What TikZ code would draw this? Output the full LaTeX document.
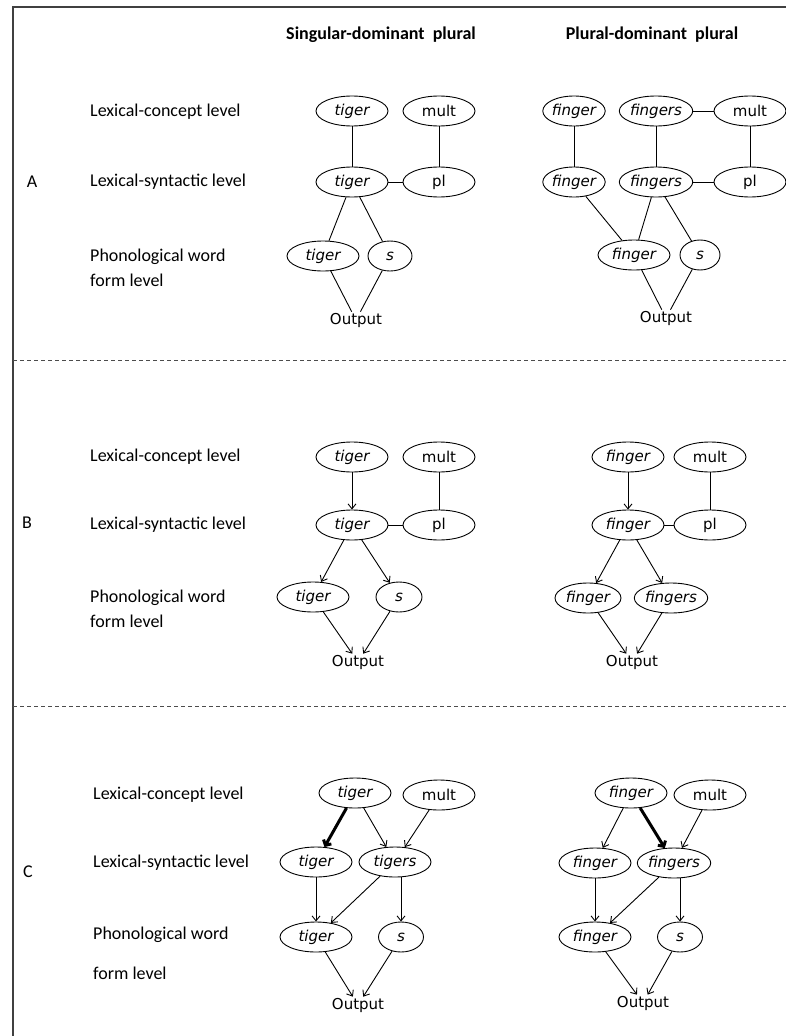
\documentclass[tikz,border=0pt]{standalone}
\usepackage{fontspec}
\setmainfont{Carlito}
\newfontfamily\nodefont{DejaVu Sans}
\usepackage{tikz}
\usetikzlibrary{shapes.geometric,arrows.meta}

\begin{document}
\begin{tikzpicture}[x=1pt,y=-1pt,
    word/.style={ellipse,draw,line width=0.9pt,minimum width=72pt,minimum height=30pt,inner sep=0pt,font=\nodefont\fontsize{15}{18}\selectfont},
    lemma/.style={word,font=\nodefont\itshape\fontsize{15}{18}\selectfont},
    outtext/.style={inner sep=1pt,font=\nodefont\fontsize{15}{18}\selectfont},
    lvltext/.style={anchor=west,align=left,inner sep=0pt,font=\fontsize{18}{25}\selectfont},
    header/.style={font=\bfseries\fontsize{18}{22}\selectfont},
    panel/.style={font=\fontsize{18}{22}\selectfont},
    link/.style={line width=0.9pt},
    feed/.style={line width=0.9pt,-{Straight Barb[length=5pt,width=8pt]}},
    strongfeed/.style={line width=3pt,-{Straight Barb[length=4pt,width=9pt]}},
    frame/.style={line width=2pt,black!75},
    divider/.style={line width=1pt,black!70,dash pattern=on 4pt off 3pt}]
    \useasboundingbox (0,0) rectangle (786,1036);

    % Frame
    \draw[frame] (13,1036) -- (13,7) -- (786,7);
    \draw[divider] (13,360) -- (786,360);
    \draw[divider] (13,706) -- (786,706);

    % Column headers
    \node[header] (hsing) at (381,35) {Singular-dominant\ \ plural};
    \node[header] (hplur) at (652,35) {Plural-dominant\ \ plural};

    % Panel A
    \node[panel] (pA) at (32,182) {A};
    \node[lvltext] (aLc) at (90,112) {Lexical-concept level};
    \node[lvltext] (aLs) at (90,182) {Lexical-syntactic level};
    \node[lvltext] (aPw) at (90,268) {Phonological word\\form level};

    \node[lemma] (alTigerC) at (352,111) {tiger};
    \node[word] (alMult) at (439,111) {mult};
    \node[lemma] (alTigerS) at (352,182) {tiger};
    \node[word] (alPl) at (439,182) {pl};
    \node[lemma] (alTigerP) at (323,256) {tiger};
    \node[lemma,minimum width=44pt] (alS) at (390,256) {s};
    \node[outtext] (alOut) at (356,320) {Output};

    \draw[link] (alTigerC) -- (alTigerS);
    \draw[link] (alMult) -- (alPl);
    \draw[link] (alTigerS) -- (alPl);
    \draw[link] (alTigerS) -- (alTigerP);
    \draw[link] (alTigerS) -- (alS);
    \draw[link] (alTigerP) -- (alOut);
    \draw[link] (alS) -- (alOut);

    \node[lemma,minimum width=62pt] (arFingerC) at (574,111) {finger};
    \node[lemma,minimum width=68pt] (arFingersC) at (656,111) {fingers};
    \node[word] (arMult) at (750,111) {mult};
    \node[lemma,minimum width=62pt] (arFingerS) at (574,182) {finger};
    \node[lemma,minimum width=68pt] (arFingersS) at (656,182) {fingers};
    \node[word] (arPl) at (750,182) {pl};
    \node[lemma] (arFingerP) at (634,255) {finger};
    \node[lemma,minimum width=40pt] (arS) at (700,255) {s};
    \node[outtext] (arOut) at (666,318) {Output};

    \draw[link] (arFingerC) -- (arFingerS);
    \draw[link] (arFingersC) -- (arFingersS);
    \draw[link] (arMult) -- (arPl);
    \draw[link] (arFingersC) -- (arMult);
    \draw[link] (arFingersS) -- (arPl);
    \draw[link] (arFingerS) -- (arFingerP);
    \draw[link] (arFingersS) -- (arFingerP);
    \draw[link] (arFingersS) -- (arS);
    \draw[link] (arFingerP) -- (arOut);
    \draw[link] (arS) -- (arOut);

    % Panel B
    \node[panel] (pB) at (27,523) {B};
    \node[lvltext] (bLc) at (90,457) {Lexical-concept level};
    \node[lvltext] (bLs) at (90,525) {Lexical-syntactic level};
    \node[lvltext] (bPw) at (90,609) {Phonological word\\form level};

    \node[lemma] (blTigerC) at (352,457) {tiger};
    \node[word] (blMult) at (439,457) {mult};
    \node[lemma] (blTigerS) at (352,525) {tiger};
    \node[word] (blPl) at (439,525) {pl};
    \node[lemma] (blTigerP) at (313,597) {tiger};
    \node[lemma,minimum width=46pt] (blS) at (399,597) {s};
    \node[outtext] (blOut) at (358,662) {Output};

    \draw[feed] (blTigerC) -- (blTigerS);
    \draw[link] (blMult) -- (blPl);
    \draw[link] (blTigerS) -- (blPl);
    \draw[feed] (blTigerS) -- (blTigerP);
    \draw[feed] (blTigerS) -- (blS);
    \draw[feed] (blTigerP) -- (blOut);
    \draw[feed] (blS) -- (blOut);

    \node[lemma] (brFingerC) at (628,457) {finger};
    \node[word] (brMult) at (710,457) {mult};
    \node[lemma] (brFingerS) at (628,525) {finger};
    \node[word] (brPl) at (710,525) {pl};
    \node[lemma,minimum width=66pt] (brFingerP) at (588,598) {finger};
    \node[lemma] (brFingersP) at (671,598) {fingers};
    \node[outtext] (brOut) at (632,662) {Output};

    \draw[feed] (brFingerC) -- (brFingerS);
    \draw[link] (brMult) -- (brPl);
    \draw[link] (brFingerS) -- (brPl);
    \draw[feed] (brFingerS) -- (brFingerP);
    \draw[feed] (brFingerS) -- (brFingersP);
    \draw[feed] (brFingerP) -- (brOut);
    \draw[feed] (brFingersP) -- (brOut);

    % Panel C
    \node[panel] (pC) at (28,872) {C};
    \node[lvltext] (cLc) at (93,795) {Lexical-concept level};
    \node[lvltext] (cLs) at (93,863) {Lexical-syntactic level};
    \node[lvltext,font=\fontsize{18}{40}\selectfont] (cPw) at (93,953) {Phonological word\\form level};

    \node[lemma] (clTigerC) at (355,793) {tiger};
    \node[word] (clMult) at (439,795) {mult};
    \node[lemma] (clTigerS) at (316,862) {tiger};
    \node[lemma] (clTigersS) at (395,862) {tigers};
    \node[lemma] (clTigerP) at (316,937) {tiger};
    \node[lemma,minimum width=45pt] (clS) at (401,937) {s};
    \node[outtext] (clOut) at (358,1005) {Output};

    \draw[strongfeed] (clTigerC) -- (clTigerS);
    \draw[feed] (clTigerC) -- (clTigersS);
    \draw[feed] (clMult) -- (clTigersS);
    \draw[feed] (clTigerS) -- (clTigerP);
    \draw[feed] (clTigersS) -- (clTigerP);
    \draw[feed] (clS |- clTigersS.south) -- (clS);
    \draw[feed] (clTigerP) -- (clOut);
    \draw[feed] (clS) -- (clOut);

    \node[lemma] (crFingerC) at (631,793) {finger};
    \node[word] (crMult) at (710,795) {mult};
    \node[lemma] (crFingerS) at (595,863) {finger};
    \node[lemma] (crFingersS) at (674,863) {fingers};
    \node[lemma] (crFingerP) at (595,937) {finger};
    \node[lemma,minimum width=45pt] (crS) at (680,937) {s};
    \node[outtext] (crOut) at (643,1003) {Output};

    \draw[feed] (crFingerC) -- (crFingerS);
    \draw[strongfeed] (crFingerC) -- (crFingersS);
    \draw[feed] (crMult) -- (crFingersS);
    \draw[feed] (crFingerS) -- (crFingerP);
    \draw[feed] (crFingersS) -- (crFingerP);
    \draw[feed] (crS |- crFingersS.south) -- (crS);
    \draw[feed] (crFingerP) -- (crOut);
    \draw[feed] (crS) -- (crOut);
\end{tikzpicture}
\end{document}
